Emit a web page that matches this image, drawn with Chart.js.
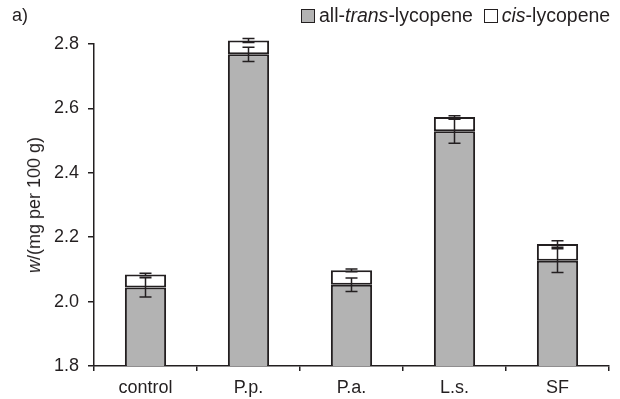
<!DOCTYPE html>
<html>
<head>
<meta charset="utf-8">
<script src="https://cdn.jsdelivr.net/npm/chart.js@4/dist/chart.umd.min.js"></script>
<style>
  body { margin: 0; background: #fff; }
  #wrap { position: relative; width: 620px; height: 399px; font-family: "Liberation Sans", Arial, sans-serif; color: #231f20; }
  #chart { position: absolute; left: 0; top: 0; }
  .lbl { position: absolute; font-size: 18px; line-height: 22px; white-space: nowrap; }
  #panel { left: 12px; top: 4px; }
  #legend { left: 301px; top: 4px; font-size: 19.5px; }
  #legend .box { display: inline-block; width: 12px; height: 12px; border: 1px solid #231f20; vertical-align: -1px; margin-right: 4px; }
  #ytitle { left: 34px; top: 205px; transform: translate(-50%, -50%) rotate(-90deg); }
</style>
</head>
<body>
<div id="wrap">
  <canvas id="chart" width="620" height="399"></canvas>
  <div class="lbl" id="panel">a)</div>
  <div class="lbl" id="legend"><span class="box" style="background:#b3b3b3"></span>all-<i>trans</i>-lycopene&nbsp;&nbsp;<span class="box" style="background:#fff"></span><i>cis</i>-lycopene</div>
  <div class="lbl" id="ytitle"><i>w</i>/(mg per 100 g)</div>
</div>
<script>
// datos
const categorias = ['control', 'P.p.', 'P.a.', 'L.s.', 'SF'];
const trans = [2.044, 2.768, 2.052, 2.529, 2.127];
const cis = [0.040, 0.043, 0.045, 0.044, 0.052];
const transErr = [0.030, 0.022, 0.021, 0.037, 0.037];
const cisErr = [0.004, 0.006, 0.004, 0.004, 0.010];
const yTicks = [1.8, 2.0, 2.2, 2.4, 2.6, 2.8];

const ink = '#231f20';

// barras de error encima de cada barra apilada
const errorBars = {
  id: 'errorBars',
  afterDatasetsDraw(chart) {
    const ctx = chart.ctx;
    const y = chart.scales.y;
    const bars = chart.getDatasetMeta(0).data;
    ctx.save();
    ctx.strokeStyle = ink;
    ctx.lineWidth = 1.5;
    bars.forEach((bar, i) => {
      const tops = [
        [trans[i], transErr[i]],
        [trans[i] + cis[i], cisErr[i]]
      ];
      tops.forEach(([v, e]) => {
        const y1 = y.getPixelForValue(v - e);
        const y2 = y.getPixelForValue(v + e);
        ctx.beginPath();
        ctx.moveTo(bar.x, y1); ctx.lineTo(bar.x, y2);
        ctx.moveTo(bar.x - 6, y1); ctx.lineTo(bar.x + 6, y1);
        ctx.moveTo(bar.x - 6, y2); ctx.lineTo(bar.x + 6, y2);
        ctx.stroke();
      });
    });
    ctx.restore();
  }
};

Chart.defaults.font.family = '"Liberation Sans", Arial, sans-serif';
Chart.defaults.font.size = 18;
Chart.defaults.color = ink;

// la barra P.p. sobresale un poco por encima de 2.8
const recorte = { left: 0, top: 20, right: 0, bottom: 0 };

new Chart(document.getElementById('chart'), {
  type: 'bar',
  data: {
    labels: categorias,
    datasets: [
      {
        label: 'all-trans-lycopene',
        data: trans,
        backgroundColor: '#b3b3b3',
        borderColor: ink,
        borderWidth: 2,
        borderSkipped: false,
        clip: recorte
      },
      {
        label: 'cis-lycopene',
        data: cis,
        backgroundColor: '#ffffff',
        borderColor: ink,
        borderWidth: 2,
        borderSkipped: false,
        clip: recorte
      }
    ]
  },
  options: {
    responsive: false,
    animation: false,
    events: [],
    layout: { padding: { top: 44, right: 11, left: 0, bottom: 0 } },
    datasets: { bar: { barPercentage: 0.4, categoryPercentage: 1.0 } },
    plugins: { legend: { display: false }, tooltip: { enabled: false } },
    scales: {
      x: {
        stacked: true,
        afterFit(s) { s.height = 33; },
        border: { color: ink, width: 1.5 },
        grid: { offset: true, drawOnChartArea: false, drawTicks: true, tickLength: 5, color: ink, lineWidth: 1.5 },
        ticks: { padding: 6 }
      },
      y: {
        stacked: true,
        min: 1.8,
        max: 2.8,
        afterFit(s) { s.width = 94; },
        afterBuildTicks(s) { s.ticks = yTicks.map(v => ({ value: v })); },
        border: { color: ink, width: 1.5 },
        grid: { drawOnChartArea: false, drawTicks: true, tickLength: 6, color: ink, lineWidth: 1.5 },
        ticks: { padding: 9, callback: v => v.toFixed(1) }
      }
    }
  },
  plugins: [errorBars]
});
</script>
</body>
</html>
